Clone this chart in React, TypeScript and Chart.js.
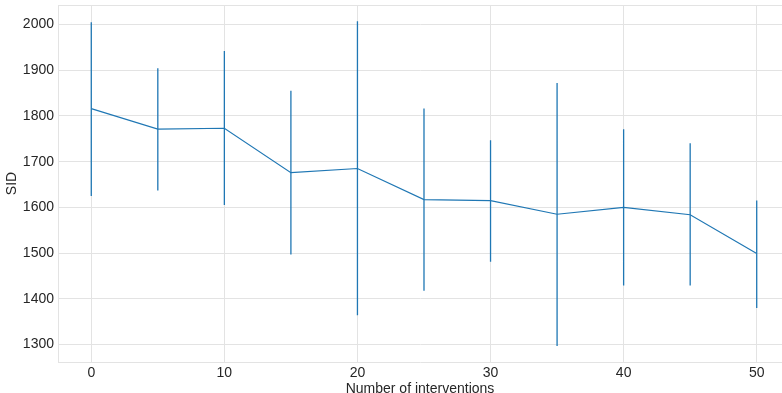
import React, { useEffect, useRef } from "react";
import { Chart, registerables } from "chart.js";

Chart.register(...registerables);

const interventions = [0, 5, 10, 15, 20, 25, 30, 35, 40, 45, 50];
const sidMean = [1816, 1771, 1773, 1676, 1685, 1617, 1615, 1585, 1600, 1584, 1499];
const sidLow = [1625, 1637, 1605, 1497, 1364, 1418, 1481, 1297, 1429, 1429, 1380];
const sidHigh = [2005, 1904, 1942, 1855, 2007, 1816, 1747, 1872, 1771, 1740, 1615];
const xTickValues = [0, 10, 20, 30, 40, 50];
const yTickValues = [1300, 1400, 1500, 1600, 1700, 1800, 1900, 2000];

const LINE = "#1f77b4";
const GRID = "#e3e3e3";
const TEXT = "#262626";
const FONT = "'Liberation Sans', Arial, sans-serif";

export default function App() {
  const ref = useRef<HTMLCanvasElement | null>(null);

  useEffect(() => {
    document.body.style.margin = "0";
    const canvas = ref.current;
    if (!canvas) return;

    const errData: any[] = [];
    interventions.forEach((x, i) => {
      errData.push({ x, y: sidLow[i] });
      errData.push({ x, y: sidHigh[i] });
      errData.push({ x, y: null });
    });

    const chart = new Chart(canvas, {
      type: "line",
      data: {
        datasets: [
          {
            label: "SID",
            data: interventions.map((x, i) => ({ x, y: sidMean[i] })),
            borderColor: LINE,
            borderWidth: 1.2,
            pointRadius: 0,
            tension: 0,
            fill: false,
          },
          {
            label: "err",
            data: errData,
            borderColor: LINE,
            borderWidth: 1.3,
            pointRadius: 0,
            spanGaps: false,
            fill: false,
          },
        ],
      },
      options: {
        animation: false,
        responsive: false,
        maintainAspectRatio: false,
        layout: { padding: { left: 0, right: 0, top: 5, bottom: 0 } },
        plugins: { legend: { display: false }, tooltip: { enabled: false } },
        scales: {
          x: {
            type: "linear",
            min: -2.5,
            max: 51.9,
            afterBuildTicks: (s: any) => {
              s.ticks = xTickValues.map((v) => ({ value: v }));
            },
            afterFit: (s: any) => {
              s.height = 31;
              s.paddingLeft = 0;
              s.paddingRight = 0;
            },
            grid: { color: GRID, lineWidth: 1, drawTicks: false },
            border: { color: GRID, width: 1 },
            ticks: {
              color: TEXT,
              font: { family: FONT, size: 14 },
              padding: 3,
              maxRotation: 0,
              callback: (v: any) => String(v),
            },
            title: {
              display: true,
              text: "Number of interventions",
              color: TEXT,
              font: { family: FONT, size: 14 },
              padding: { top: 0, bottom: -5 },
            },
          },
          y: {
            type: "linear",
            min: 1262,
            max: 2042.5,
            afterBuildTicks: (s: any) => {
              s.ticks = yTickValues.map((v) => ({ value: v }));
            },
            afterFit: (s: any) => {
              s.width = 58;
              s.paddingTop = 0;
              s.paddingBottom = 0;
            },
            grid: { color: GRID, lineWidth: 1, drawTicks: false },
            border: { color: GRID, width: 1 },
            ticks: {
              color: TEXT,
              font: { family: FONT, size: 14 },
              padding: 4,
              callback: (v: any) => String(v),
            },
            title: {
              display: true,
              text: "SID",
              color: TEXT,
              font: { family: FONT, size: 14 },
              padding: { top: 4, bottom: 0 },
            },
          },
        },
      },
      plugins: [
        {
          id: "topBorder",
          afterDraw: (c: any) => {
            const { ctx, chartArea } = c;
            ctx.save();
            ctx.strokeStyle = GRID;
            ctx.lineWidth = 1;
            ctx.beginPath();
            ctx.moveTo(chartArea.left, chartArea.top + 0.5);
            ctx.lineTo(chartArea.right, chartArea.top + 0.5);
            ctx.stroke();
            ctx.restore();
          },
        },
      ],
    } as any);

    return () => chart.destroy();
  }, []);

  return (
    <div style={{ width: 782, height: 393 }}>
      <canvas ref={ref} width={782} height={393} style={{ display: "block", width: 782, height: 393 }} />
    </div>
  );
}
